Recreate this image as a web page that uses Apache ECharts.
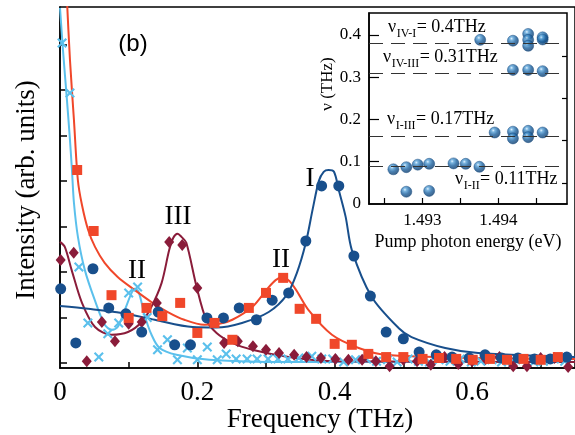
<!DOCTYPE html>
<html><head><meta charset="utf-8">
<script src="https://cdn.jsdelivr.net/npm/echarts@6/dist/echarts.min.js"></script>
<style>html,body{margin:0;padding:0;background:#fff}#c{width:575px;height:435px}</style>
</head><body><div id="c"></div>
<script>
// ---------- main panel data (x: THz, y: arb. units) ----------
const xTicks = [0.1, 0.2, 0.3, 0.4, 0.5, 0.6, 0.7];
const xTickLabels = [0, 0.2, 0.4, 0.6];
const yTicks = [0, 1, 2, 3, 4, 5, 6, 7];

const blueFit = [[0,1.25],[0.041,1.19],[0.09,1.10],[0.138,0.95],[0.193,0.79],[0.228,0.78],[0.265,0.88],[0.304,1.12],[0.33,1.49],[0.345,1.98],[0.358,2.64],[0.368,3.38],[0.377,4.00],[0.384,4.20],[0.391,4.24],[0.399,4.20],[0.406,3.80],[0.416,3.21],[0.425,2.48],[0.454,1.45],[0.493,0.77],[0.512,0.57],[0.561,0.33],[0.609,0.22],[0.75,0.13]];
const bluePts = [[0.001,1.63],[0.023,0.44],[0.048,2.07],[0.071,1.21],[0.096,1.08],[0.119,0.68],[0.143,1.12],[0.167,0.40],[0.190,0.40],[0.214,0.99],[0.238,0.99],[0.261,1.21],[0.286,0.95],[0.309,1.38],[0.333,1.54],[0.358,2.68],[0.381,3.89],[0.406,3.89],[0.428,2.35],[0.452,1.47],[0.475,0.68],[0.500,0.53],[0.523,0.24],[0.548,0.18],[0.571,0.13],[0.596,0.11],[0.619,0.18],[0.643,0.11],[0.667,0.11],[0.691,0.09],[0.714,0.09],[0.738,0.13]];

const redFit = [[0.0094,8.2],[0.0145,6.66],[0.0203,5.34],[0.026,4.02],[0.032,3.47],[0.041,2.92],[0.051,2.55],[0.065,2.20],[0.084,1.89],[0.109,1.60],[0.133,1.34],[0.157,1.12],[0.181,0.95],[0.210,0.84],[0.232,0.86],[0.251,0.95],[0.280,1.23],[0.302,1.63],[0.314,1.82],[0.324,1.89],[0.334,1.80],[0.344,1.60],[0.362,1.16],[0.396,0.62],[0.435,0.33],[0.474,0.18],[0.609,0.11],[0.75,0.09]];
const redPts = [[0.025,4.24],[0.049,2.90],[0.075,1.49],[0.100,0.99],[0.126,1.21],[0.149,1.03],[0.175,1.32],[0.200,0.66],[0.225,0.88],[0.251,0.51],[0.275,1.21],[0.300,1.54],[0.325,1.87],[0.349,1.19],[0.373,0.97],[0.400,0.42],[0.425,0.40],[0.449,0.20],[0.475,0.13],[0.500,0.13],[0.528,0.09],[0.552,0.11],[0.577,0.09],[0.601,0.07],[0.626,0.09],[0.651,0.07],[0.675,0.09],[0.700,0.07],[0.725,0.13]];

const maroonFit = [[0,2.66],[0.007,2.55],[0.017,2.04],[0.032,1.32],[0.051,0.79],[0.075,0.62],[0.099,0.68],[0.119,0.90],[0.133,1.23],[0.148,1.76],[0.159,2.48],[0.165,2.75],[0.171,2.84],[0.177,2.77],[0.184,2.64],[0.199,1.67],[0.213,0.95],[0.228,0.66],[0.251,0.44],[0.280,0.29],[0.333,0.13],[0.396,0.04],[0.75,0.02]];
const maroonPts = [[0.001,2.26],[0.020,2.42],[0.039,0.04],[0.061,0.90],[0.080,0.48],[0.100,0.86],[0.119,0.90],[0.141,1.32],[0.159,2.66],[0.178,2.59],[0.200,1.65],[0.239,0.44],[0.259,0.48],[0.281,0.37],[0.300,0.29],[0.319,0.22],[0.341,0.18],[0.359,0.13],[0.380,0.11],[0.401,0.09],[0.420,0.07],[0.44,0.07],[0.46,0.04],[0.48,-0.07],[0.50,0.07],[0.52,0.04],[0.54,-0.04],[0.56,0.13],[0.58,-0.02],[0.60,0.04],[0.62,0.09],[0.64,0.13],[0.66,-0.07],[0.68,-0.07],[0.70,0.11],[0.72,0.11],[0.74,-0.09]];

const lightFit = [[0,7.80],[0.0043,6.88],[0.0101,5.78],[0.0145,4.90],[0.0174,4.24],[0.0203,3.52],[0.0261,2.77],[0.0362,2.04],[0.0507,1.38],[0.0652,0.84],[0.0754,0.73],[0.084,0.79],[0.0942,1.16],[0.1043,1.54],[0.1087,1.63],[0.1145,1.56],[0.1232,1.05],[0.1333,0.62],[0.1449,0.33],[0.1696,0.18],[0.2174,0.07],[0.3333,0.02],[0.75,0.02]];
const lightPts = [[0.003,7.03],[0.0145,5.93],[0.0275,2.11],[0.0406,0.88],[0.0565,0.13],[0.0696,0.64],[0.0855,0.88],[0.100,1.54],[0.113,1.67],[0.127,1.0],[0.142,0.29],[0.1565,0.51],[0.171,0.07],[0.1855,0.33],[0.200,0.07],[0.2145,0.35],[0.229,0.07],[0.242,0.20],[0.2565,0.09],[0.2725,0.09],[0.287,0.09],[0.303,0.09],[0.3174,0.09],[0.3319,0.09],[0.3478,0.11],[0.3667,0.15],[0.3812,0.09],[0.3971,0.09],[0.413,0.02],[0.4304,0.07],[0.4464,0.09],[0.461,0.04],[0.477,0.07],[0.491,0.02],[0.507,0.09],[0.522,0.04],[0.538,0.02],[0.552,0.07],[0.568,0.04],[0.583,0.09],[0.599,0.02],[0.613,0.04],[0.629,0.07],[0.643,0.02],[0.659,0.04],[0.674,0.07],[0.690,0.02],[0.704,0.04],[0.72,0.09],[0.735,0.04]];

// ---------- inset data (x: eV, y: THz) ----------
const insetXTicks = [1.4925, 1.493, 1.4935, 1.494, 1.4945];
const insetXLabels = [1.493, 1.494];
const insetYMajor = [0.1, 0.2, 0.3, 0.4];
const insetYMinor = [0.05, 0.15, 0.25, 0.35];
const insetYLabels = [0, 0.1, 0.2, 0.3, 0.4];
const insetPts = [[1.49376,0.388],[1.49419,0.386],[1.49439,0.402],[1.49439,0.388],[1.49439,0.374],[1.49458,0.394],[1.49458,0.389],
  [1.49419,0.317],[1.49439,0.317],[1.49458,0.314],
  [1.49395,0.169],[1.49419,0.171],[1.49419,0.155],[1.49439,0.173],[1.49439,0.158],[1.49458,0.169],
  [1.49262,0.082],[1.49279,0.087],[1.49294,0.093],[1.49309,0.095],[1.49341,0.096],[1.49357,0.095],[1.49375,0.088],
  [1.49279,0.029],[1.49309,0.031]];
const insetLines = [0.381, 0.311, 0.163, 0.0946];
const insetLineLabels = [
  {sub: 'IV-I', rest: '= 0.4THz', x: 388, base: 33},
  {sub: 'IV-III', rest: '= 0.31THz', x: 383, base: 63},
  {sub: 'I-III', rest: '= 0.17THz', x: 387, base: 125},
  {sub: 'I-II', rest: '= 0.11THz', x: 455, base: 185}
];

const SERIF = '"Liberation Serif","DejaVu Serif",serif';
const SANS = '"Liberation Sans","DejaVu Sans",sans-serif';
const C_BLUE = '#184f8c', C_RED = '#f0472a', C_MAROON = '#8a1c3a', C_LIGHT = '#5bc0ec';
const crossPath = 'path://M1.5,0L5,3.5L8.5,0L10,1.5L6.5,5L10,8.5L8.5,10L5,6.5L1.5,10L0,8.5L3.5,5L0,1.5Z';

const chart = echarts.init(document.getElementById('c'), null, {renderer: 'canvas'});

function fitLine(data, color) {
  return {type: 'line', xAxisIndex: 0, yAxisIndex: 0, data: data, showSymbol: false, symbol: 'none',
    smooth: 0.3, clip: true, lineStyle: {color: color, width: 2}, z: 2, silent: true};
}
function pts(data, symbol, size, color) {
  return {type: 'scatter', xAxisIndex: 0, yAxisIndex: 0, data: data, symbol: symbol, symbolSize: size,
    itemStyle: {color: color, opacity: 1}, z: 3, silent: true};
}

const txt = (s, x, y, size, font, rot) => ({type: 'text', x: x, y: y, rotation: rot || 0, silent: true, z: 10,
  style: {text: s, font: size + 'px ' + font, fill: '#000', textAlign: 'center', textVerticalAlign: 'middle', verticalAlign: 'middle'}});
const txtL = (s, x, y, size, font) => ({type: 'text', x: x, y: y, silent: true, z: 10,
  style: {text: s, font: size + 'px ' + font, fill: '#000', textAlign: 'left', textVerticalAlign: 'middle', verticalAlign: 'middle'}});

const mctx = document.createElement('canvas').getContext('2d');
function textW(s, size, font) { mctx.font = size + 'px ' + font; return mctx.measureText(s).width; }

const graphics = [
  txt('(b)', 133, 44, 24, SANS),
  txt('I', 310, 179, 27, SERIF),
  txt('II', 281, 260, 27, SERIF),
  txt('III', 178, 217, 27, SERIF),
  txt('II', 137, 271, 27, SERIF),
  txt('Frequency (THz)', 320, 420, 27, SERIF),
  txt('Intensity (arb. units)', 27, 190, 27, SERIF, Math.PI / 2),
  txt('ν (THz)', 328, 84, 17, SERIF, Math.PI / 2),
  txt('Pump photon energy (eV)', 468, 242, 18, SERIF)
];
insetLineLabels.forEach(l => {
  const w1 = textW('ν', 18, SERIF);
  const w2 = textW(l.sub, 12, SERIF);
  graphics.push(txtL('ν', l.x, l.base - 5.5, 18, SERIF));
  graphics.push(txtL(l.sub, l.x + w1 + 0.5, l.base + 0.8, 12, SERIF));
  graphics.push(txtL(l.rest, l.x + w1 + w2 + 1, l.base - 5.5, 18, SERIF));
});

const sphere = {type: 'radial', x: 0.38, y: 0.32, r: 0.7, colorStops: [
  {offset: 0, color: '#dcefff'}, {offset: 0.2, color: '#5aa3d8'}, {offset: 0.55, color: '#1b609e'}, {offset: 1, color: '#0c3866'}]};

const option = {
  animation: false,
  backgroundColor: '#fff',
  grid: [
    {left: 60, top: 7, width: 517.5, height: 361, show: true, borderColor: '#000', borderWidth: 1.5, backgroundColor: 'transparent', containLabel: false},
    {left: 369, top: 13, width: 198, height: 191, show: true, borderColor: '#000', borderWidth: 1.5, backgroundColor: '#fff', containLabel: false}
  ],
  xAxis: [
    {gridIndex: 0, type: 'value', min: 0, max: 0.75,
      axisLine: {show: true, onZero: false, lineStyle: {color: '#000', width: 1.5}},
      axisTick: {show: true, inside: true, length: 6, customValues: xTicks, lineStyle: {color: '#000', width: 1.5}},
      axisLabel: {show: true, customValues: xTickLabels, fontSize: 27, fontFamily: SERIF, color: '#000', margin: 11,
        formatter: v => (v === 0 ? '0' : String(v))},
      splitLine: {show: false}},
    {gridIndex: 1, type: 'value', min: 1.4923, max: 1.4949,
      axisLine: {show: true, onZero: false, lineStyle: {color: '#000', width: 1.5}},
      axisTick: {show: true, inside: true, length: 6, customValues: insetXTicks, lineStyle: {color: '#000', width: 1.2}},
      axisLabel: {show: true, customValues: insetXLabels, fontSize: 17, fontFamily: SERIF, color: '#000', margin: 8,
        formatter: v => v.toFixed(3)},
      splitLine: {show: false}}
  ],
  yAxis: [
    {gridIndex: 0, type: 'value', min: -0.11, max: 7.82,
      axisLine: {show: true, onZero: false, lineStyle: {color: '#000', width: 1.5}},
      axisTick: {show: true, inside: true, length: 7, customValues: yTicks, lineStyle: {color: '#000', width: 1.5}},
      axisLabel: {show: false}, splitLine: {show: false}},
    {gridIndex: 1, type: 'value', min: 0, max: 0.4515,
      axisLine: {show: true, onZero: false, lineStyle: {color: '#000', width: 1.5}},
      axisTick: {show: true, inside: true, length: 10, customValues: insetYMajor, lineStyle: {color: '#000', width: 1.2}},
      axisLabel: {show: true, customValues: insetYLabels, fontSize: 17, fontFamily: SERIF, color: '#000', margin: 8,
        formatter: v => (v === 0 ? '0' : v.toFixed(1))},
      splitLine: {show: false}},
    {gridIndex: 1, type: 'value', min: 0, max: 0.4515,
      axisLine: {show: false},
      axisTick: {show: true, inside: true, length: 5, customValues: insetYMinor, lineStyle: {color: '#000', width: 1.2}},
      axisLabel: {show: false}, splitLine: {show: false}}
  ],
  series: [
    fitLine(lightFit, C_LIGHT),
    fitLine(maroonFit, C_MAROON),
    fitLine(redFit, C_RED),
    fitLine(blueFit, C_BLUE),
    pts(lightPts, crossPath, 10, C_LIGHT),
    pts(maroonPts, 'diamond', [10, 12], C_MAROON),
    pts(bluePts, 'circle', 11, C_BLUE),
    pts(redPts, 'rect', 10, C_RED),
    {type: 'scatter', xAxisIndex: 1, yAxisIndex: 1, data: insetPts, symbol: 'circle', symbolSize: 11,
      itemStyle: {color: sphere, borderColor: '#124a80', borderWidth: 0.6}, z: 4, silent: true,
      markLine: {silent: true, symbol: ['none', 'none'], label: {show: false}, animation: false,
        lineStyle: {type: [14, 8], color: '#333', width: 1.2},
        data: insetLines.map(v => ({yAxis: v}))}}
  ],
  graphic: graphics
};
chart.setOption(option);
</script></body></html>
